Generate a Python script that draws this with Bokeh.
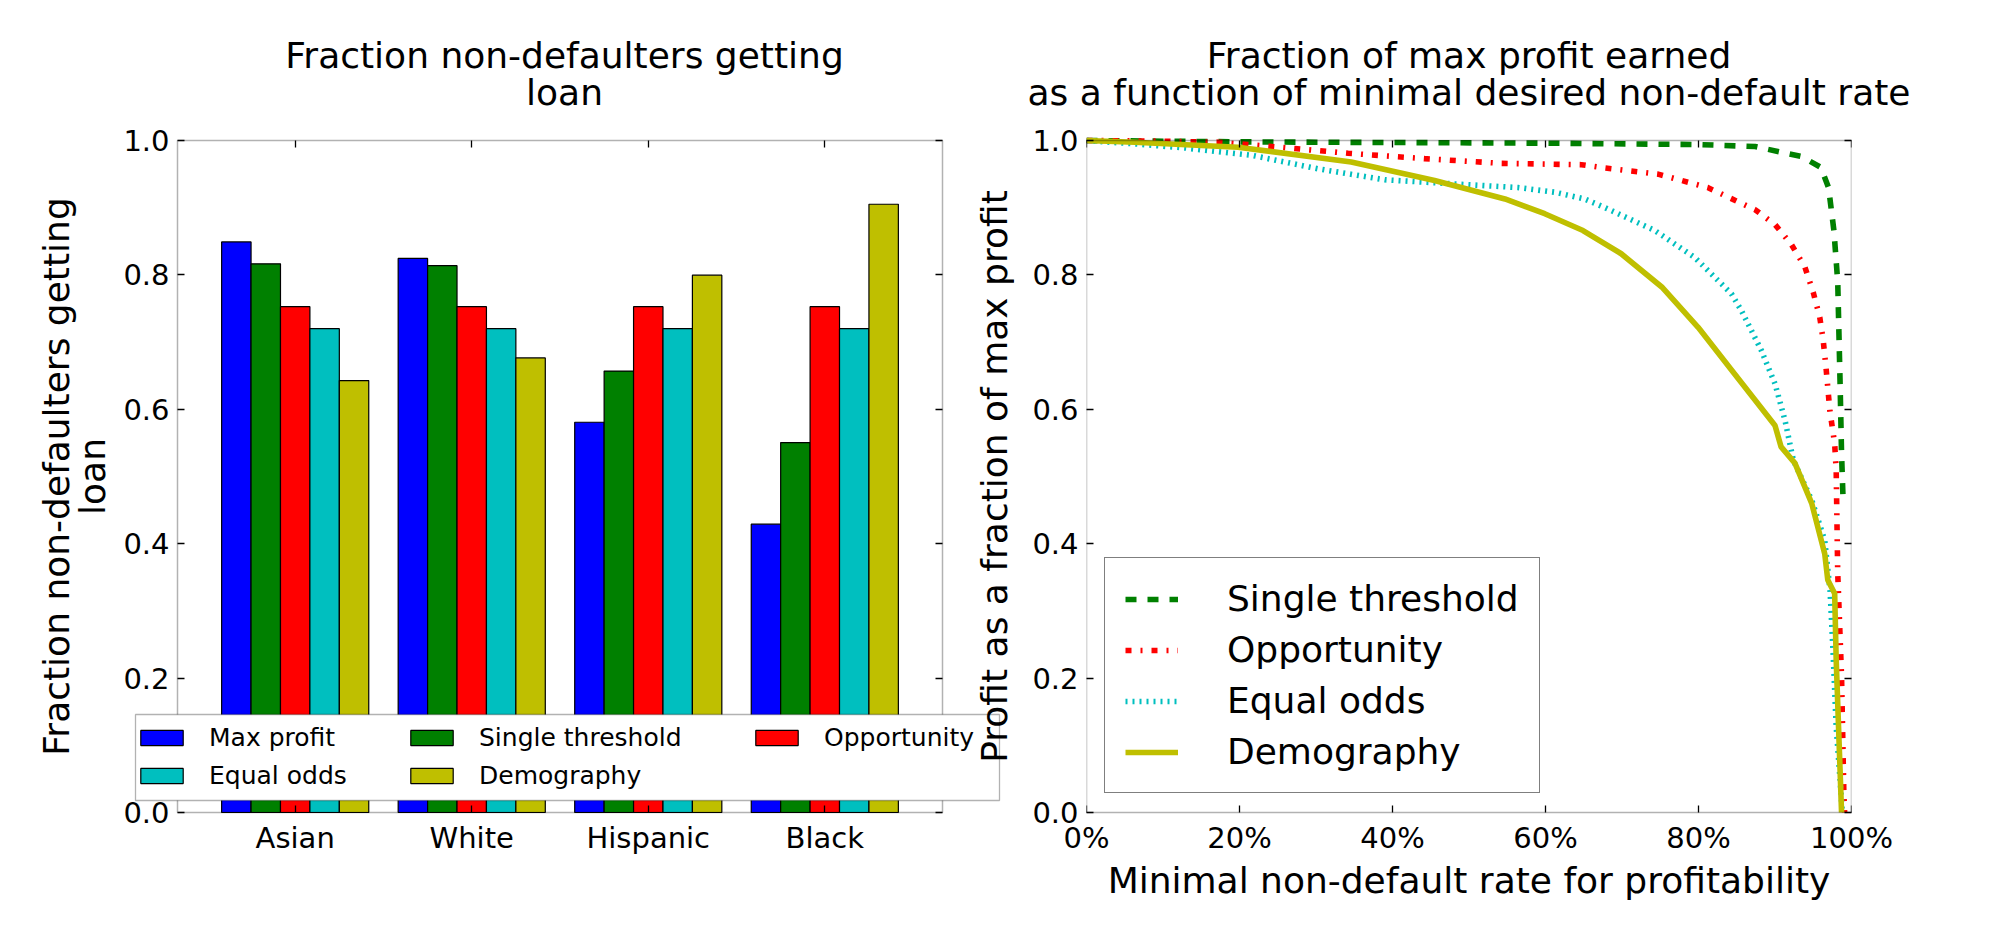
from bokeh.plotting import figure
from bokeh.layouts import row
from bokeh.models import (Range1d, FixedTicker, LinearAxis, Legend, LegendItem,
                          Label, NumeralTickFormatter, Title, BoxAnnotation)
from bokeh.embed import file_html
from bokeh.resources import INLINE
import math

FONT = "DejaVu Sans"

# left chart: fraction of non-defaulters getting a loan
groups = ["Asian", "White", "Hispanic", "Black"]
methods = ["Max profit", "Single threshold", "Opportunity", "Equal odds", "Demography"]
max_profit = [0.849, 0.8245, 0.5807, 0.4291]
single_threshold = [0.8165, 0.8138, 0.6569, 0.5505]
opportunity = [0.7527, 0.7527, 0.7527, 0.7527]
equal_odds = [0.72, 0.72, 0.72, 0.72]
demography = [0.6427, 0.6764, 0.7996, 0.9051]
bar_colors = ["#0000ff", "#008000", "#ff0000", "#00bfbf", "#bfbf00"]

y_ticks = [0.0, 0.2, 0.4, 0.6, 0.8, 1.0]
pct_ticks = [0.0, 0.2, 0.4, 0.6, 0.8, 1.0]

# right chart: fraction of max profit vs minimal non-default rate
single_x = [0, 0.2, 0.4, 0.6, 0.8, 0.874, 0.935, 0.96, 0.97, 0.977, 0.982, 0.985, 0.987, 0.989]
single_y = [1.0, 0.998, 0.997, 0.996, 0.994, 0.991, 0.976, 0.96, 0.93, 0.866, 0.79, 0.643, 0.534, 0.465]

opp_x = [0, 0.1, 0.172, 0.242, 0.342, 0.442, 0.542, 0.647, 0.678, 0.747, 0.812, 0.874, 0.9,
         0.921, 0.939, 0.95, 0.9585, 0.963, 0.967, 0.9717, 0.978, 0.98, 0.982, 0.987, 0.99, 0.991]
opp_y = [1.0, 0.999, 0.9975, 0.991, 0.981, 0.973, 0.966, 0.964, 0.959, 0.95, 0.93, 0.897, 0.875,
         0.846, 0.812, 0.774, 0.737, 0.703, 0.658, 0.598, 0.549, 0.509, 0.356, 0.202, 0.029, 0.0]

odds_x = [0, 0.063, 0.128, 0.216, 0.302, 0.39, 0.477, 0.564, 0.6125, 0.651, 0.678, 0.743, 0.795,
          0.843, 0.856, 0.882, 0.9, 0.913, 0.924, 0.948, 0.965, 0.972, 0.976, 0.98, 0.985, 0.988]
odds_y = [1.0, 0.995, 0.989, 0.978, 0.958, 0.9415, 0.9356, 0.93, 0.923, 0.913, 0.9, 0.866, 0.826,
          0.772, 0.747, 0.688, 0.638, 0.584, 0.524, 0.465, 0.405, 0.33, 0.237, 0.128, 0.05, 0.0]

demo_x = [0, 0.063, 0.198, 0.346, 0.455, 0.547, 0.599, 0.649, 0.699, 0.752, 0.7995, 0.847, 0.9,
          0.908, 0.926, 0.948, 0.965, 0.969, 0.978, 0.98, 0.987]
demo_y = [1.0, 0.9975, 0.99, 0.968, 0.9405, 0.913, 0.891, 0.866, 0.8315, 0.782, 0.722, 0.653, 0.576,
          0.544, 0.52, 0.46, 0.385, 0.346, 0.326, 0.227, 0.0]


def style_axis(ax, show_labels=True):
    ax.major_tick_in = 7
    ax.major_tick_out = 0
    ax.major_tick_line_color = "black"
    ax.major_tick_line_width = 1.3
    ax.minor_tick_line_color = None
    ax.axis_line_color = None
    ax.major_label_text_font = FONT
    if show_labels:
        ax.major_label_text_color = "black"
        ax.major_label_text_font_size = "29px"
        ax.major_label_standoff = 8
    else:
        ax.major_label_text_color = None
        ax.major_label_text_font_size = "1px"
        ax.major_label_standoff = 0
    ax.axis_label_text_font = FONT
    ax.axis_label_text_font_size = "36px"
    ax.axis_label_text_font_style = "normal"
    ax.axis_label_text_color = "black"


def add_title(p, text, standoff):
    t = Title(text=text, align="center", text_font=FONT, text_font_size="36px",
              text_font_style="normal", text_color="black", text_line_height=0.9,
              standoff=standoff)
    if "text_align" in Title.properties():
        t.text_align = "center"
    p.add_layout(t, "above")


def plain_legend(items, **kw):
    return Legend(items=items, label_text_font=FONT, label_text_color="black", margin=0,
                  border_line_color=None, background_fill_alpha=0, **kw)


# both frames are a little larger than the drawn boxes so that texts which
# sit on the box edges (tick labels, legend, y label) are not cut
PAD_V = 18
BOX_H = 672
TITLE_STANDOFF = 19
px_y = BOX_H / 1.0

# ---------------- left: grouped bars ----------------
BOX_L, BOX_R = -2 / 3, 11 / 3
BOX_W = 765
PAD_L, PAD_R = 63, 72
px_x = BOX_W / (BOX_R - BOX_L)

p1 = figure(frame_width=BOX_W + PAD_L + PAD_R, frame_height=BOX_H + 2 * PAD_V,
            min_border_left=114, min_border_right=2, min_border_top=140 - PAD_V,
            min_border_bottom=110 - PAD_V,
            x_range=Range1d(BOX_L - PAD_L / px_x, BOX_R + PAD_R / px_x),
            y_range=Range1d(0 - PAD_V / px_y, 1 + PAD_V / px_y),
            output_backend="svg", toolbar_location=None)
p1.outline_line_color = None
p1.xgrid.grid_line_color = None
p1.ygrid.grid_line_color = None
p1.title.text = ""

series = [max_profit, single_threshold, opportunity, equal_odds, demography]
bar_renderers = []
for j, vals in enumerate(series):
    xs = [i + (j - 2) / 6 for i in range(len(groups))]
    r = p1.vbar(x=xs, top=vals, width=1 / 6, bottom=0,
                fill_color=bar_colors[j], line_color="black", line_width=1.2)
    bar_renderers.append(r)

# outer axis only carries the y label
ylab_axis = p1.yaxis[0]
ylab_axis.ticker = FixedTicker(ticks=[])
style_axis(ylab_axis, False)
ylab_axis.axis_label = "Fraction non-defaulters getting\nloan"
ylab_axis.axis_label_standoff = 2
ylab_axis.axis_label_text_line_height = 0.86

group_ticks = FixedTicker(ticks=list(range(len(groups))))
xtick_axis = p1.xaxis[0]
xtick_axis.ticker = group_ticks
xtick_axis.fixed_location = 0
style_axis(xtick_axis, False)

xlab_axis = LinearAxis(ticker=group_ticks,
                       major_label_overrides={i: g for i, g in enumerate(groups)})
style_axis(xlab_axis)
xlab_axis.major_tick_in = 0
xlab_axis.major_label_standoff = 8 - PAD_V
p1.add_layout(xlab_axis, "below")

top1 = LinearAxis(ticker=group_ticks, fixed_location=1)
style_axis(top1, False)
p1.add_layout(top1, "above")

left_box = LinearAxis(fixed_location=BOX_L, ticker=FixedTicker(ticks=y_ticks),
                      formatter=NumeralTickFormatter(format="0.0"))
style_axis(left_box)
p1.add_layout(left_box, "left")
right_box = LinearAxis(fixed_location=BOX_R, ticker=FixedTicker(ticks=y_ticks))
style_axis(right_box, False)
p1.add_layout(right_box, "right")

p1.add_layout(BoxAnnotation(left=BOX_L, right=BOX_R, bottom=0, top=1,
                            fill_color=None, line_color="black", line_width=1.5))

add_title(p1, "Fraction non-defaulters getting\nloan", TITLE_STANDOFF)

# legend of the bars: a frame of its own, columns placed like the original
LEG_X, LEG_Y, LEG_W, LEG_H = 21, PAD_V + 12, 864, 86
LEG_PAD, ROW_H, ROW_GAP = 9, 30, 8
LEG_RAISE = 10
p1.add_layout(BoxAnnotation(left=LEG_X, right=LEG_X + LEG_W, bottom=LEG_Y, top=LEG_Y + LEG_H,
                            left_units="screen", right_units="screen",
                            bottom_units="screen", top_units="screen",
                            fill_color="white", fill_alpha=1,
                            line_color="black", line_width=1.3))
leg_items = {m: LegendItem(label=m, renderers=[r]) for m, r in zip(methods, bar_renderers)}
bar_leg_style = dict(label_text_font_size="25px", glyph_width=53, glyph_height=19,
                     label_standoff=21, label_height=ROW_H, spacing=ROW_GAP, padding=LEG_PAD,
                     orientation="horizontal")
legend1a = plain_legend([leg_items[m] for m in ["Max profit", "Single threshold",
                                                  "Equal odds", "Demography"]],
                        ncols=2, label_width=188, location=(LEG_X, LEG_Y + LEG_RAISE),
                        **bar_leg_style)
legend1b = plain_legend([leg_items["Opportunity"]], ncols=1, label_width=20,
                        location=(LEG_X + 615, LEG_Y + LEG_RAISE + ROW_H + ROW_GAP),
                        **bar_leg_style)
p1.add_layout(legend1a)
p1.add_layout(legend1b)

# y label of the right chart; it overlaps the legend of the left one
ylab2 = Label(x=BOX_W + PAD_L + 52, y=PAD_V + BOX_H / 2, x_units="screen", y_units="screen",
              text="Profit as a fraction of max profit", angle=math.pi / 2,
              text_align="center", text_baseline="middle",
              text_font=FONT, text_font_size="36px", text_color="black")
p1.add_layout(ylab2)

# ---------------- right: profit curves ----------------
p2 = figure(frame_width=765, frame_height=BOX_H + 2 * PAD_V,
            min_border_left=70, min_border_right=130, min_border_top=140 - PAD_V,
            min_border_bottom=110 - PAD_V,
            x_range=Range1d(0, 1), y_range=Range1d(0 - PAD_V / px_y, 1 + PAD_V / px_y),
            output_backend="svg", toolbar_location=None)
p2.outline_line_color = None
p2.xgrid.grid_line_color = None
p2.ygrid.grid_line_color = None
p2.title.text = ""

lw = 5.6
r_single = p2.line(single_x, single_y, line_color="#008000", line_width=lw, line_dash="11 11")
r_opp = p2.line(opp_x, opp_y, line_color="#ff0000", line_width=lw, line_dash="6 9 2 9")
r_odds = p2.line(odds_x, odds_y, line_color="#00bfbf", line_width=lw, line_dash="2 5")
r_demo = p2.line(demo_x, demo_y, line_color="#bfbf00", line_width=lw)

p2.yaxis.ticker = FixedTicker(ticks=y_ticks)
p2.yaxis.formatter = NumeralTickFormatter(format="0.0")
style_axis(p2.yaxis[0])

pct_ticker = FixedTicker(ticks=pct_ticks)
xtick2 = p2.xaxis[0]
xtick2.ticker = pct_ticker
xtick2.fixed_location = 0
style_axis(xtick2, False)

xlab2 = LinearAxis(ticker=pct_ticker, formatter=NumeralTickFormatter(format="0%"),
                   axis_label="Minimal non-default rate for profitability")
style_axis(xlab2)
xlab2.major_tick_in = 0
xlab2.major_label_standoff = 8 - PAD_V
xlab2.axis_label_standoff = 2
p2.add_layout(xlab2, "below")

top2 = LinearAxis(ticker=pct_ticker, fixed_location=1)
right2 = LinearAxis(ticker=FixedTicker(ticks=y_ticks))
style_axis(top2, False)
style_axis(right2, False)
p2.add_layout(top2, "above")
p2.add_layout(right2, "right")

p2.add_layout(BoxAnnotation(left=0, right=1, bottom=0, top=1,
                            fill_color=None, line_color="black", line_width=1.5))

add_title(p2, "Fraction of max profit earned\nas a function of minimal desired non-default rate",
          TITLE_STANDOFF)

legend2 = Legend(items=[LegendItem(label="Single threshold", renderers=[r_single]),
                        LegendItem(label="Opportunity", renderers=[r_opp]),
                        LegendItem(label="Equal odds", renderers=[r_odds]),
                        LegendItem(label="Demography", renderers=[r_demo])],
                 location=(18, PAD_V + 19), label_text_font=FONT, label_text_font_size="36px",
                 label_text_color="black",
                 glyph_width=53, glyph_height=20, label_standoff=49,
                 spacing=10, padding=20, margin=0,
                 border_line_color="black", border_line_width=1.3,
                 background_fill_color="white", background_fill_alpha=1)
p2.add_layout(legend2)

layout = row(p1, p2)
open("out.html", "w").write(file_html(layout, INLINE))
